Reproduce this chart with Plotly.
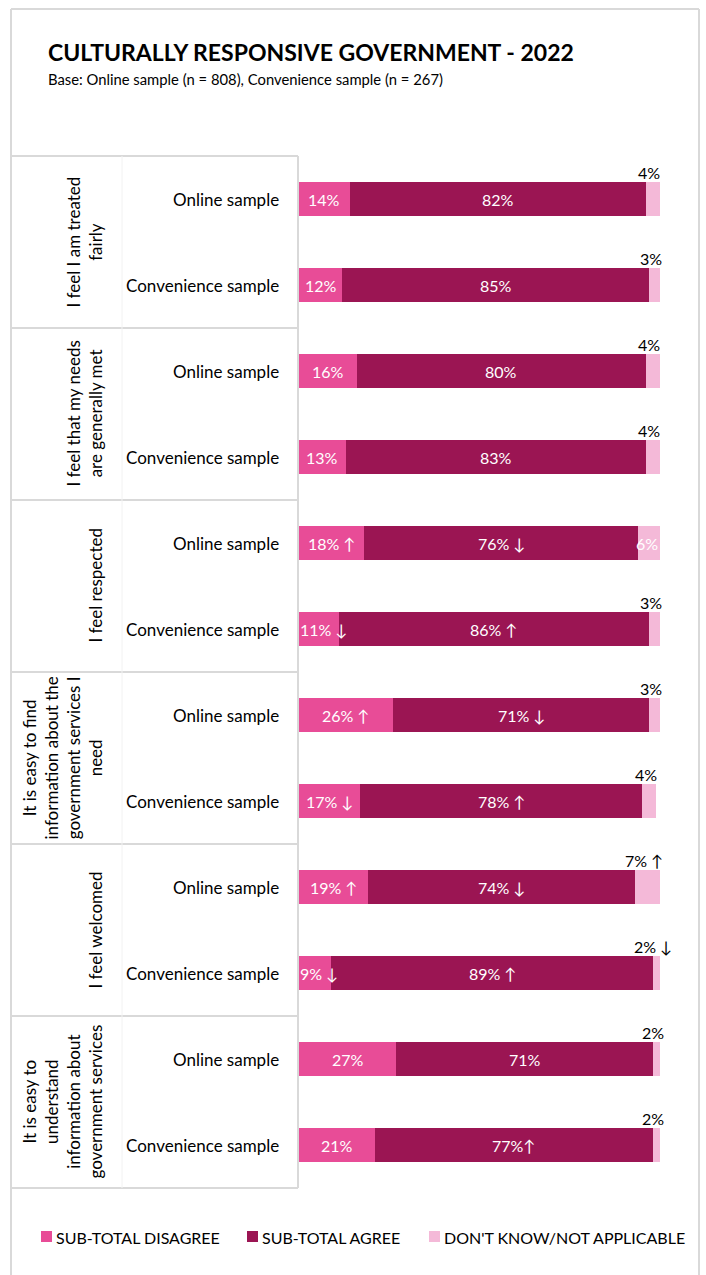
import plotly.graph_objects as go

# Survey statements (group labels) and sample rows
statements = [
    "I feel I am treated<br>fairly",
    "I feel that my needs<br>are generally met",
    "I feel respected",
    "It is easy to find<br>information about the<br>government services I<br>need",
    "I feel welcomed",
    "It is easy to<br>understand<br>information about<br>government services",
]
samples = ["Online sample", "Convenience sample"]

# Values per row (statement x sample, in order)
disagree = [14, 12, 16, 13, 18, 11, 26, 17, 19, 9, 27, 21]
agree = [82, 85, 80, 83, 76, 86, 71, 78, 74, 89, 71, 77]
dont_know = [4, 3, 4, 4, 6, 3, 3, 4, 7, 2, 2, 2]

# Significance markers appended to labels
disagree_sig = ["", "", "", "", " ↑", " ↓", " ↑", " ↓", " ↑", " ↓", "", ""]
agree_sig = ["", "", "", "", " ↓", " ↑", " ↓", " ↑", " ↓", " ↑", "", "↑"]
dont_know_sig = ["", "", "", "", "", "", "", "", " ↑", " ↓", "", ""]

series_names = ["SUB-TOTAL DISAGREE", "SUB-TOTAL AGREE", "DON'T KNOW/NOT APPLICABLE"]
colors = ["#E84C97", "#9B1553", "#F4B9D8"]

W, H = 706, 1275
FONT = "Lato, 'Open Sans', sans-serif"
X0, X1 = 299, 660            # pixel extent of the 0-100% scale
PX_PER_PCT = (X1 - X0) / 100

rows = list(range(len(disagree)))
row_labels = [s for _ in statements for s in samples]

fig = go.Figure()
for name, vals, col in zip(series_names, [disagree, agree, dont_know], colors):
    fig.add_trace(go.Bar(
        y=rows, x=vals, orientation="h", name=name,
        marker=dict(color=col, line=dict(width=0)),
        width=0.4, showlegend=False, hoverinfo="x+name",
    ))

annotations = []
shapes = []

def px(x):
    return x / W

def py(y):
    return 1 - y / H

# Segment value labels
for k in rows:
    d, a, n = disagree[k], agree[k], dont_know[k]
    d_text = f"{d}%{disagree_sig[k]}"
    too_wide = len(d_text) * 9 > d * PX_PER_PCT
    annotations.append(dict(x=0 if too_wide else d / 2, y=k, xref="x", yref="y",
                            xanchor="left" if too_wide else "center",
                            xshift=-1 if too_wide else 0,
                            text=d_text, showarrow=False,
                            font=dict(family=FONT, size=16, color="white")))
    annotations.append(dict(x=d + a / 2, y=k, xref="x", yref="y",
                            text=f"{a}%{agree_sig[k]}", showarrow=False,
                            font=dict(family=FONT, size=16, color="white")))
    inside = n >= 5 and not dont_know_sig[k]
    annotations.append(dict(x=d + a + n / 2 - (0.5 if inside else 1), y=k, xref="x", yref="y",
                            text=f"{n}%{dont_know_sig[k]}", showarrow=False,
                            yshift=0 if inside else 27,
                            font=dict(family=FONT, size=16,
                                      color="white" if inside else "black")))

# Sample row labels
for k in rows:
    annotations.append(dict(x=px(281), y=k, xref="paper", yref="y",
                            text=row_labels[k], showarrow=False, xanchor="right",
                            font=dict(family=FONT, size=17, color="black")))

# Statement labels (rotated) and table grid
n_s = len(samples)
for g, st in enumerate(statements):
    annotations.append(dict(x=px(107), y=g * n_s + (n_s - 1) / 2, xref="paper", yref="y",
                            text=st, showarrow=False, textangle=-90,
                            xanchor="right", yanchor="middle", align="center",
                            font=dict(family=FONT, size=17, color="black")))
for g in range(len(statements) + 1):
    yb = g * n_s - 0.5
    shapes.append(dict(type="line", xref="paper", yref="y",
                       x0=px(12), x1=px(298), y0=yb, y1=yb,
                       line=dict(color="#D9D9D9", width=2)))
yt, ybot = -0.5, len(statements) * n_s - 0.5
shapes.append(dict(type="line", xref="paper", yref="y", x0=px(298), x1=px(298),
                   y0=yt, y1=ybot, line=dict(color="#D9D9D9", width=2)))
shapes.append(dict(type="line", xref="paper", yref="y", x0=px(122), x1=px(122),
                   y0=yt, y1=ybot, line=dict(color="#F2F2F2", width=1)))

# Outer frame
shapes.append(dict(type="line", xref="paper", yref="paper", x0=px(11), x1=px(11),
                   y0=py(9), y1=py(H + 10), line=dict(color="#D9D9D9", width=2)))
shapes.append(dict(type="line", xref="paper", yref="paper", x0=px(699), x1=px(699),
                   y0=py(9), y1=py(H + 10), line=dict(color="#D9D9D9", width=2)))
shapes.append(dict(type="line", xref="paper", yref="paper", x0=px(11), x1=px(699),
                   y0=py(9), y1=py(9), line=dict(color="#D9D9D9", width=2)))

# Title and subtitle
annotations.append(dict(x=px(46), y=py(52), xref="paper", yref="paper",
                        text="<b>CULTURALLY RESPONSIVE GOVERNMENT - 2022</b>",
                        showarrow=False, xanchor="left", yanchor="middle",
                        font=dict(family=FONT, size=23, color="black")))
annotations.append(dict(x=px(46), y=py(79), xref="paper", yref="paper",
                        text="Base: Online sample (n = 808), Convenience sample (n = 267)",
                        showarrow=False, xanchor="left", yanchor="middle",
                        font=dict(family=FONT, size=14.8, color="black")))

# Legend
legend_x = [41, 247, 429]
for lx, name, col in zip(legend_x, series_names, colors):
    shapes.append(dict(type="rect", xref="paper", yref="paper",
                       x0=px(lx), x1=px(lx + 11), y0=py(1231), y1=py(1242),
                       fillcolor=col, line=dict(width=0)))
    annotations.append(dict(x=px(lx + 13), y=py(1237), xref="paper", yref="paper",
                            text=name, showarrow=False, xanchor="left", yanchor="middle",
                            font=dict(family=FONT, size=16, color="black")))

top_val = -199 / 86
bot_val = (H - 199) / 86

fig.update_layout(
    barmode="stack",
    width=W, height=H,
    margin=dict(l=0, r=0, t=0, b=0),
    paper_bgcolor="white", plot_bgcolor="white",
    xaxis=dict(domain=[px(X0), px(X1)], range=[0, 100], visible=False, fixedrange=True),
    yaxis=dict(domain=[0, 1], range=[bot_val, top_val], visible=False, fixedrange=True),
    annotations=annotations,
    shapes=shapes,
    showlegend=False,
)

fig.write_html("out.html")
